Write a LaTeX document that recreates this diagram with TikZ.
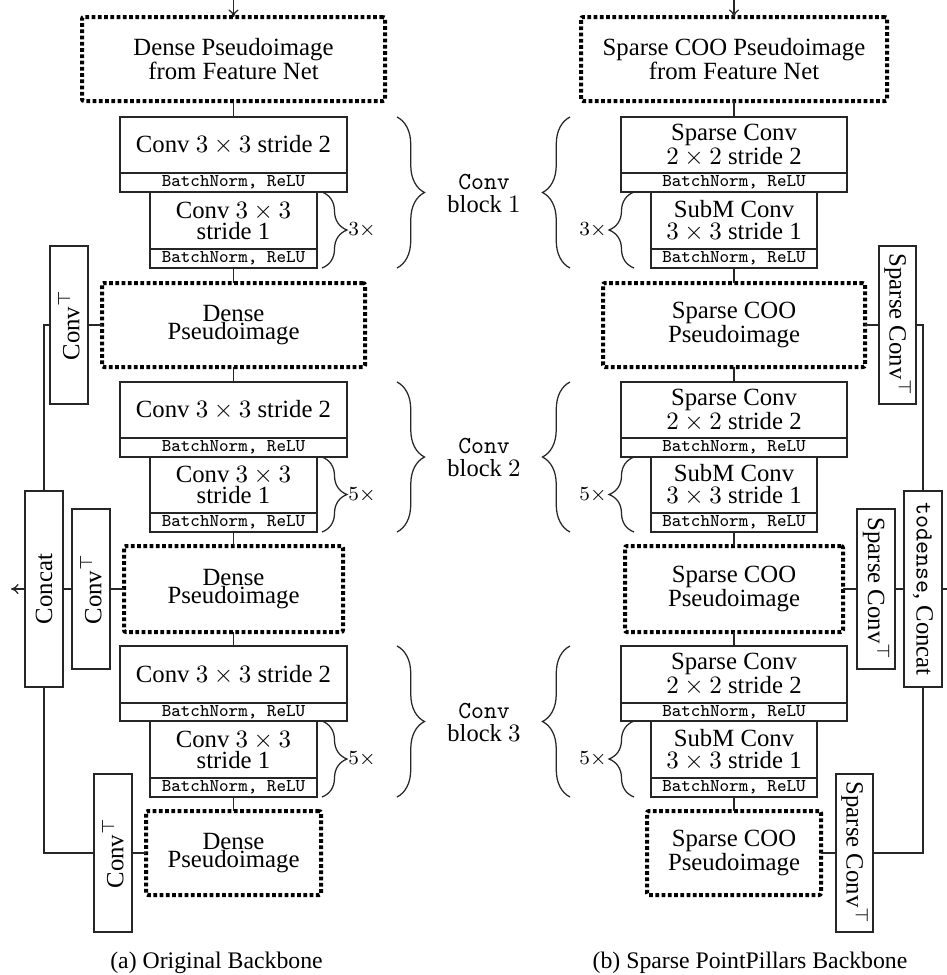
\documentclass[tikz,border=0pt]{standalone}
\usepackage{fontspec}
\setmainfont{Liberation Serif}
\usetikzlibrary{fit,decorations.pathreplacing,arrows.meta}
\begin{document}
\begin{tikzpicture}[x=0.4pt,y=-0.4pt,
  every node/.style={inner sep=0pt,outer sep=0pt},
  sbox/.style={draw=black!85,line width=0.5pt},
  dotbox/.style={draw=black,line width=1.6pt,dash pattern=on 1.5pt off 1.0pt,rounded corners=0.8pt},
  txt/.style={align=center,font=\fontsize{9.9}{9.6}\selectfont},
  bntxt/.style={font=\fontsize{7.2}{7.2}\selectfont\ttfamily},
  conn/.style={draw=black!85,line width=0.5pt},
  arr/.style={conn,-{To[length=3pt,width=4pt]}},
  bigbrace/.style={draw=black!85,line width=0.5pt,decorate,decoration={brace,amplitude=11pt}},
  smallbrace/.style={draw=black!85,line width=0.5pt,decorate,decoration={brace,amplitude=10pt}},
  mult/.style={font=\fontsize{8}{8}\selectfont},
  blocklabel/.style={align=center,font=\fontsize{9.8}{9.2}\selectfont},
  captext/.style={anchor=base,font=\fontsize{9.5}{9.5}\selectfont}
]
\useasboundingbox (0,0) rectangle (947,975);

% ---------------- Left: original backbone ----------------
\node[dotbox,fit={(82,17) (385,101)}] (D0) {};
\node[txt] (D0t) at (D0.center) {Dense Pseudoimage\\from Feature Net};
\node[sbox,fit={(120,117) (347,173)}] (A1) {};
\node[txt] (A1t) at (A1.center) {Conv $3\times3$ stride 2};
\node[sbox,fit={(120,173) (347,192)}] (A1bn) {};
\node[bntxt] (A1bnt) at (A1bn.center) {BatchNorm, ReLU};
\node[sbox,fit={(150,192) (317,249)}] (B1) {};
\node[txt] (B1t) at (B1.center) {Conv $3\times3$\\[-1.2pt]stride 1};
\node[sbox,fit={(150,249) (317,268)}] (B1bn) {};
\node[bntxt] (B1bnt) at (B1bn.center) {BatchNorm, ReLU};
\node[dotbox,fit={(102,283) (365,367)}] (D1) {};
\node[txt] (D1t) at (D1.center) {Dense\\[-2.4pt]Pseudoimage};

\node[sbox,fit={(120,382) (347,438)}] (A2) {};
\node[txt] (A2t) at (A2.center) {Conv $3\times3$ stride 2};
\node[sbox,fit={(120,438) (347,457)}] (A2bn) {};
\node[bntxt] (A2bnt) at (A2bn.center) {BatchNorm, ReLU};
\node[sbox,fit={(150,457) (317,513)}] (B2) {};
\node[txt] (B2t) at (B2.center) {Conv $3\times3$\\[-1.2pt]stride 1};
\node[sbox,fit={(150,513) (317,532)}] (B2bn) {};
\node[bntxt] (B2bnt) at (B2bn.center) {BatchNorm, ReLU};
\node[dotbox,fit={(124,546) (343,632)}] (D2) {};
\node[txt] (D2t) at (D2.center) {Dense\\[-2.4pt]Pseudoimage};

\node[sbox,fit={(120,646) (347,703)}] (A3) {};
\node[txt] (A3t) at (A3.center) {Conv $3\times3$ stride 2};
\node[sbox,fit={(120,703) (347,721)}] (A3bn) {};
\node[bntxt] (A3bnt) at (A3bn.center) {BatchNorm, ReLU};
\node[sbox,fit={(150,721) (317,778)}] (B3) {};
\node[txt] (B3t) at (B3.center) {Conv $3\times3$\\[-1.2pt]stride 1};
\node[sbox,fit={(150,778) (317,797)}] (B3bn) {};
\node[bntxt] (B3bnt) at (B3bn.center) {BatchNorm, ReLU};
\node[dotbox,fit={(146,811) (321,895)}] (D3) {};
\node[txt] (D3t) at (D3.center) {Dense\\[-2.4pt]Pseudoimage};

\node[sbox,fit={(50,246) (88,404)}] (T1) {};
\node[txt,rotate=90] (T1t) at (T1.center) {Conv$^{\top}$};
\node[sbox,fit={(72,509) (110,669)}] (T2) {};
\node[txt,rotate=90] (T2t) at (T2.center) {Conv$^{\top}$};
\node[sbox,fit={(94,774) (132,932)}] (T3) {};
\node[txt,rotate=90] (T3t) at (T3.center) {Conv$^{\top}$};
\node[sbox,fit={(25,491) (63,687)}] (C) {};
\node[txt,rotate=90] (Ct) at (C.center) {Concat};

\coordinate (inL) at (233.5,0);
\coordinate (outL) at (11,589);
\draw[arr] (inL) -- (D0.north);
\draw[conn] (D0.south) -- (A1.north);
\draw[conn] (B1bn.south) -- (D1.north);
\draw[conn] (D1.south) -- (A2.north);
\draw[conn] (B2bn.south) -- (D2.north);
\draw[conn] (D2.south) -- (A3.north);
\draw[conn] (B3bn.south) -- (D3.north);
\draw[conn] (D1.west) -- (T1.east);
\draw[conn] (T1.west) -| (C.north);
\draw[conn] (D2.west) -- (T2.east);
\draw[conn] (T2.west) -- (C.east);
\draw[conn] (D3.west) -- (T3.east);
\draw[conn] (C.south) |- (T3.west);
\draw[arr] (C.west) -- (outL);

% ---------------- Right: sparse backbone ----------------
\node[dotbox,fit={(581,17) (887,101)}] (R0) {};
\node[txt] (R0t) at (R0.center) {Sparse COO Pseudoimage\\from Feature Net};
\node[sbox,fit={(621,117) (847,173)}] (RA1) {};
\node[txt] (RA1t) at (RA1.center) {Sparse Conv\\$2\times2$ stride 2};
\node[sbox,fit={(621,173) (847,192)}] (RA1bn) {};
\node[bntxt] (RA1bnt) at (RA1bn.center) {BatchNorm, ReLU};
\node[sbox,fit={(651,192) (817,249)}] (RB1) {};
\node[txt] (RB1t) at (RB1.center) {SubM Conv\\[-0.8pt]$3\times3$ stride 1};
\node[sbox,fit={(651,249) (817,268)}] (RB1bn) {};
\node[bntxt] (RB1bnt) at (RB1bn.center) {BatchNorm, ReLU};
\node[dotbox,fit={(603,283) (865,367)}] (RD1) {};
\node[txt] (RD1t) at (RD1.center) {Sparse COO\\Pseudoimage};

\node[sbox,fit={(621,382) (847,438)}] (RA2) {};
\node[txt] (RA2t) at (RA2.center) {Sparse Conv\\$2\times2$ stride 2};
\node[sbox,fit={(621,438) (847,457)}] (RA2bn) {};
\node[bntxt] (RA2bnt) at (RA2bn.center) {BatchNorm, ReLU};
\node[sbox,fit={(651,457) (817,513)}] (RB2) {};
\node[txt] (RB2t) at (RB2.center) {SubM Conv\\[-0.8pt]$3\times3$ stride 1};
\node[sbox,fit={(651,513) (817,532)}] (RB2bn) {};
\node[bntxt] (RB2bnt) at (RB2bn.center) {BatchNorm, ReLU};
\node[dotbox,fit={(625,546) (843,632)}] (RD2) {};
\node[txt] (RD2t) at (RD2.center) {Sparse COO\\Pseudoimage};

\node[sbox,fit={(621,646) (847,703)}] (RA3) {};
\node[txt] (RA3t) at (RA3.center) {Sparse Conv\\$2\times2$ stride 2};
\node[sbox,fit={(621,703) (847,721)}] (RA3bn) {};
\node[bntxt] (RA3bnt) at (RA3bn.center) {BatchNorm, ReLU};
\node[sbox,fit={(651,721) (817,778)}] (RB3) {};
\node[txt] (RB3t) at (RB3.center) {SubM Conv\\[-0.8pt]$3\times3$ stride 1};
\node[sbox,fit={(651,778) (817,797)}] (RB3bn) {};
\node[bntxt] (RB3bnt) at (RB3bn.center) {BatchNorm, ReLU};
\node[dotbox,fit={(647,811) (821,895)}] (RD3) {};
\node[txt] (RD3t) at (RD3.center) {Sparse COO\\Pseudoimage};

\node[sbox,fit={(879,246) (916,404)}] (RT1) {};
\node[txt,rotate=-90] (RT1t) at (RT1.center) {Sparse Conv$^{\top}$};
\node[sbox,fit={(857,509) (895,669)}] (RT2) {};
\node[txt,rotate=-90] (RT2t) at (RT2.center) {Sparse Conv$^{\top}$};
\node[sbox,fit={(836,774) (873,932)}] (RT3) {};
\node[txt,rotate=-90] (RT3t) at (RT3.center) {Sparse Conv$^{\top}$};
\node[sbox,fit={(904,491) (942,687)}] (RC) {};
\node[txt,rotate=-90] (RCt) at (RC.center) {\texttt{todense}, Concat};

\coordinate (inR) at (734,0);
\coordinate (outR) at (947,589);
\draw[arr] (inR) -- (R0.north);
\draw[conn] (R0.south) -- (RA1.north);
\draw[conn] (RB1bn.south) -- (RD1.north);
\draw[conn] (RD1.south) -- (RA2.north);
\draw[conn] (RB2bn.south) -- (RD2.north);
\draw[conn] (RD2.south) -- (RA3.north);
\draw[conn] (RB3bn.south) -- (RD3.north);
\draw[conn] (RD1.east) -- (RT1.west);
\draw[conn] (RT1.east) -| (RC.north);
\draw[conn] (RD2.east) -- (RT2.west);
\draw[conn] (RT2.east) -- (RC.west);
\draw[conn] (RD3.east) -- (RT3.west);
\draw[conn] (RC.south) |- (RT3.east);
\draw[conn] (RC.east) -- (outR);

% ---------------- Braces and labels ----------------
\draw[smallbrace] (322,192) -- (322,268);
\draw[smallbrace] (322,457) -- (322,532);
\draw[smallbrace] (322,721) -- (322,797);
\node[mult] (mL1) at (362,230) {$3\times$};
\node[mult] (mL2) at (362,495) {$5\times$};
\node[mult] (mL3) at (362,759) {$5\times$};
\draw[bigbrace] (397,117) -- (397,268);
\draw[bigbrace] (397,382) -- (397,532);
\draw[bigbrace] (397,646) -- (397,797);

\draw[smallbrace] (634,268) -- (634,192);
\draw[smallbrace] (634,532) -- (634,457);
\draw[smallbrace] (634,797) -- (634,721);
\node[mult] (mR1) at (593,230) {$3\times$};
\node[mult] (mR2) at (593,495) {$5\times$};
\node[mult] (mR3) at (593,759) {$5\times$};
\draw[bigbrace] (570,268) -- (570,117);
\draw[bigbrace] (570,532) -- (570,382);
\draw[bigbrace] (570,797) -- (570,646);

\node[blocklabel] (L1) at (484,193) {\texttt{Conv}\\block $1$};
\node[blocklabel] (L2) at (484,457) {\texttt{Conv}\\block $2$};
\node[blocklabel] (L3) at (484,722) {\texttt{Conv}\\block $3$};

\node[captext] (capa) at (216.5,968) {(a) Original Backbone};
\node[captext] (capb) at (750,968) {(b) Sparse PointPillars Backbone};
\end{tikzpicture}
\end{document}
